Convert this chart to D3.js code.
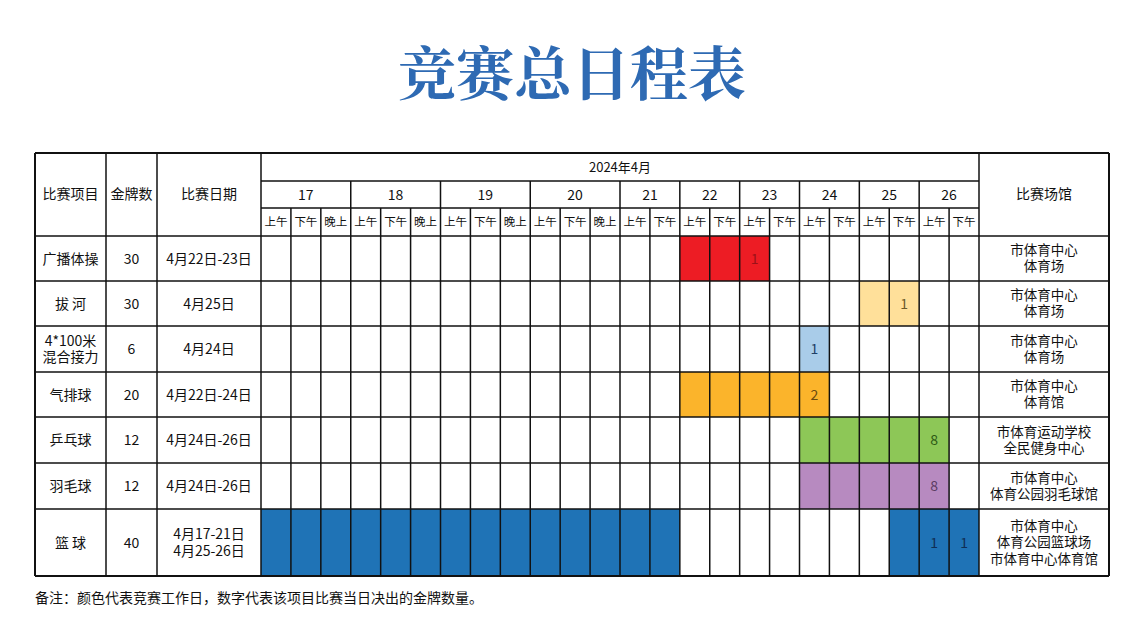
<!DOCTYPE html>
<html><head><meta charset="utf-8">
<script src="https://cdn.jsdelivr.net/npm/d3@7"></script>
<style>body{margin:0;background:#fff}text{font-family:"Noto Sans CJK SC","Noto Sans",sans-serif}</style>
</head><body><svg id="c" width="1128" height="622"></svg>
<script>
const days=["17","18","19","20","21","22","23","24","25","26"];
const daySlots=[3,3,3,3,2,2,2,2,2,2];
const slotNames=["上午","下午","晚上"];
const events=["广播体操","拔  河","4*100米\n混合接力","气排球","乒乓球","羽毛球","篮    球"];
const medals=["30","30","6","20","12","12","40"];
const dates=["4月22日-23日","4月25日","4月24日","4月22日-24日","4月24日-26日","4月24日-26日","4月17-21日\n4月25-26日"];
const venues=["市体育中心\n体育场","市体育中心\n体育场","市体育中心\n体育场","市体育中心\n体育馆","市体育运动学校\n全民健身中心","市体育中心\n体育公园羽毛球馆","市体育中心\n体育公园篮球场\n市体育中心体育馆"];
const fills=["#ED1C24","#FFE09A","#A9CCE9","#FBB42B","#8DC757","#B78AC0","#1F73B6"];
const numColors=["#9B1118","#6B5A2A","#1F3F66","#6A4A10","#2D5A16","#5B3C63","#0F2E55"];
const spans=[[[14,16]],[[20,21]],[[18,18]],[[14,18]],[[18,22]],[[18,22]],[[0,13],[21,23]]];
const marks=[[0,16,"1"],[1,21,"1"],[2,18,"1"],[3,18,"2"],[4,22,"8"],[5,22,"8"],[6,22,"1"],[6,23,"1"]];
const rowH=[45,45,46,45,46,46,67];

(function(){
const svg=d3.select("#c");
const slots=[];days.forEach((d,i)=>{for(let k=0;k<daySlots[i];k++)slots.push({day:i,name:slotNames[k]});});
const x=d3.scaleBand().domain(d3.range(slots.length)).range([261,979]);
const yTop=236;const rowY=[];let acc=yTop;rowH.forEach(h=>{rowY.push(acc);acc+=h;});const yBot=acc;
const y=i=>rowY[i];
const L=35,C1=106,C2=157,R=1109;
const ink="#111";
svg.append("text").attr("x",572).attr("y",95).attr("text-anchor","middle").attr("font-size",58).attr("font-weight","bold").attr("fill","#2E6AB3").style("font-family","'Noto Serif CJK SC','Noto Sans CJK SC',serif").text("竞赛总日程表");
spans.forEach((sp,i)=>sp.forEach(([a,b])=>svg.append("rect").attr("x",x(a)).attr("y",y(i)).attr("width",x(b)+x.bandwidth()-x(a)).attr("height",rowH[i]).attr("fill",fills[i])));
marks.forEach(([e,s,v])=>svg.append("text").attr("x",x(s)+x.bandwidth()/2).attr("y",y(e)+rowH[e]/2+5).attr("text-anchor","middle").attr("font-size",14).attr("fill",numColors[e]).text(v));
const line=(x1,y1,x2,y2,w)=>svg.append("line").attr("x1",x1).attr("y1",y1).attr("x2",x2).attr("y2",y2).attr("stroke",ink).attr("stroke-width",w||1.5);
const hTop=153,r1=181,r2=208;
line(L,hTop,R,hTop,2);line(L,yBot,R,yBot,2);
line(261,r1,979,r1);line(261,r2,979,r2);
rowY.forEach(v=>line(L,v,R,v));
[L,R].forEach(v=>line(v,hTop,v,yBot,2));
[C1,C2,261,979].forEach(v=>line(v,hTop,v,yBot));
slots.forEach((s,i)=>{if(i>0){const first=slots[i-1].day!==s.day;line(x(i),first?r1:r2,x(i),yBot);}});
const t=(tx,ty,str,size,anchor)=>{const lines=str.split("\n");const lh=size*1.2;const g=svg.append("text").attr("text-anchor",anchor||"middle").attr("font-size",size).attr("fill",ink);lines.forEach((l,k)=>g.append("tspan").attr("x",tx).attr("y",ty+(k-(lines.length-1)/2)*lh+size*0.36).text(l));};
t((L+C1)/2,194,"比赛项目",14);t((C1+C2)/2,194,"金牌数",14);t((C2+261)/2,194,"比赛日期",14);t((979+R)/2,194,"比赛场馆",14);
t(620,167,"2024年4月",13);
days.forEach((d,i)=>{const idx=slots.findIndex(s=>s.day===i);const n=daySlots[i];t((x(idx)+x(idx+n-1)+x.bandwidth())/2,195,d,14);});
slots.forEach((s,i)=>t(x(i)+x.bandwidth()/2,222,s.name,11.5));
events.forEach((e,i)=>{const cy=y(i)+rowH[i]/2;t((L+C1)/2,cy,e,14);t((C1+C2)/2,cy,medals[i],14);t((C2+261)/2,cy,dates[i],14);t((979+R)/2,cy,venues[i],13.5);});
svg.append("text").attr("x",35).attr("y",603).attr("font-size",14).attr("fill",ink).text("备注：颜色代表竞赛工作日，数字代表该项目比赛当日决出的金牌数量。");
})();
</script></body></html>
